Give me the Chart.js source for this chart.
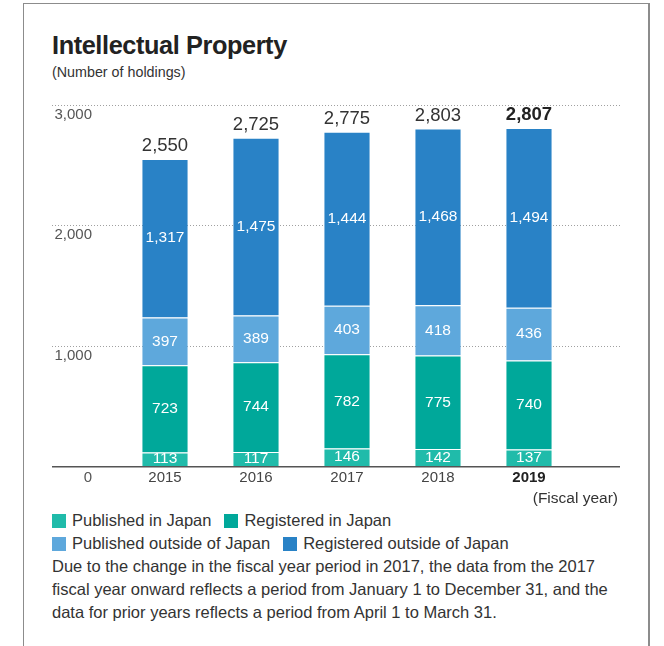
<!DOCTYPE html>
<html>
<head>
<meta charset="utf-8">
<script src="https://cdn.jsdelivr.net/npm/chart.js@4"></script>
<style>
  body { margin: 0; background: #fff; font-family: 'Liberation Sans', Arial, Helvetica, sans-serif; color: #333; overflow: hidden; width: 664px; height: 646px; }
  #frame { position: absolute; left: 23px; top: 3px; width: 624px; height: 700px; border-left: 1px solid #8c8c8c; border-top: 1px solid #8c8c8c; border-right: 2px solid #8c8c8c; }
  #title { position: absolute; left: 52px; top: 33px; font-size: 25.3px; font-weight: bold; letter-spacing: -0.4px; color: #222; line-height: 25px; }
  #subtitle { position: absolute; left: 52px; top: 65px; font-size: 14.3px; line-height: 14px; color: #333; }
  #wrap { position: absolute; left: 0; top: 90px; width: 664px; height: 410px; }
  #unit { position: absolute; right: 46px; top: 490px; font-size: 15.5px; line-height: 16px; color: #333; }
  #bottom { position: absolute; left: 52px; top: 509px; width: 600px; font-size: 16.5px; line-height: 23px; color: #333; }
  .row { display: flex; gap: 13px; }
  .item { display: flex; align-items: center; }
  .sw { width: 14px; height: 14px; margin-right: 6px; }
</style>
</head>
<body>
<div id="frame"></div>
<div id="title">Intellectual Property</div>
<div id="subtitle">(Number of holdings)</div>
<div id="wrap"><canvas id="ipChart"></canvas></div>
<div id="unit">(Fiscal year)</div>
<div id="bottom">
  <div class="row" id="legendRow1"></div>
  <div class="row" id="legendRow2"></div>
  <div>Due to the change in the fiscal year period in 2017, the data from the 2017<br>fiscal year onward reflects a period from January 1 to December 31, and the<br>data for prior years reflects a period from April 1 to March 31.</div>
</div>
<script>
// chart data
const years = ['2015', '2016', '2017', '2018', '2019'];
const publishedJapan = [113, 117, 146, 142, 137];
const registeredJapan = [723, 744, 782, 775, 740];
const publishedOutside = [397, 389, 403, 418, 436];
const registeredOutside = [1317, 1475, 1444, 1468, 1494];
const yTicks = [0, 1000, 2000, 3000];

const FONT = "'Liberation Sans', Arial, Helvetica, sans-serif";

const series = [
  { label: 'Published in Japan', data: publishedJapan, color: '#20bbaa' },
  { label: 'Registered in Japan', data: registeredJapan, color: '#00a89a' },
  { label: 'Published outside of Japan', data: publishedOutside, color: '#5ea8dc' },
  { label: 'Registered outside of Japan', data: registeredOutside, color: '#2982c6' }
];

// legend in two rows
[[0, 1], [2, 3]].forEach((idx, r) => {
  const row = document.getElementById('legendRow' + (r + 1));
  idx.forEach(i => {
    const it = document.createElement('div');
    it.className = 'item';
    it.innerHTML = '<span class="sw" style="background:' + series[i].color + '"></span>' + series[i].label;
    row.appendChild(it);
  });
});

const fmt = v => v.toLocaleString('en-US');

// grid, tick text and value labels
const labelPlugin = {
  id: 'labelPlugin',
  beforeDatasetsDraw(chart) {
    const ctx = chart.ctx;
    const y = chart.scales.y;
    ctx.save();
    ctx.strokeStyle = '#a0a0a0';
    ctx.lineWidth = 1;
    ctx.setLineDash([1, 2]);
    yTicks.forEach(v => {
      if (v === 0) return;
      const py = Math.round(y.getPixelForValue(v)) + 0.5;
      ctx.beginPath();
      ctx.moveTo(52, py);
      ctx.lineTo(620, py);
      ctx.stroke();
    });
    ctx.restore();
  },
  afterDatasetsDraw(chart) {
    const ctx = chart.ctx;
    const x = chart.scales.x;
    const y = chart.scales.y;
    const base = y.getPixelForValue(0);
    ctx.save();

    // baseline
    ctx.strokeStyle = '#555';
    ctx.lineWidth = 1.5;
    ctx.beginPath();
    ctx.moveTo(52, base + 0.75);
    ctx.lineTo(620, base + 0.75);
    ctx.stroke();

    // y tick labels (drawn under their gridline)
    ctx.fillStyle = '#555';
    ctx.font = '15px ' + FONT;
    ctx.textAlign = 'right';
    ctx.textBaseline = 'middle';
    yTicks.forEach(v => {
      ctx.fillText(fmt(v), 92, y.getPixelForValue(v) + (v === 0 ? 12 : 10));
    });

    // year labels
    ctx.textAlign = 'center';
    years.forEach((yr, i) => {
      const last = i === years.length - 1;
      ctx.font = (last ? 'bold ' : '') + '15px ' + FONT;
      ctx.fillStyle = last ? '#222' : '#444';
      ctx.fillText(yr, x.getPixelForValue(i), base + 12);
    });

    // segment labels
    ctx.fillStyle = '#fff';
    ctx.font = '15.5px ' + FONT;
    chart.data.datasets.forEach((ds, d) => {
      chart.getDatasetMeta(d).data.forEach((bar, i) => {
        ctx.fillText(fmt(ds.data[i]), bar.x, (bar.y + bar.base) / 2);
      });
    });

    // totals above the bars
    const topMeta = chart.getDatasetMeta(chart.data.datasets.length - 1);
    topMeta.data.forEach((bar, i) => {
      const total = series.reduce((s, sr) => s + sr.data[i], 0);
      const last = i === years.length - 1;
      ctx.font = (last ? 'bold ' : '') + '18.5px ' + FONT;
      ctx.fillStyle = last ? '#222' : '#333';
      ctx.fillText(fmt(total), bar.x, bar.y - 13);
    });
    ctx.restore();
  }
};

new Chart(document.getElementById('ipChart'), {
  type: 'bar',
  data: {
    labels: years,
    datasets: series.map(s => ({
      label: s.label,
      data: s.data,
      backgroundColor: s.color,
      borderColor: '#fff',
      borderWidth: { top: 1, bottom: 0, left: 0, right: 0 },
      borderSkipped: false,
      barPercentage: 0.5,
      categoryPercentage: 1
    }))
  },
  options: {
    responsive: true,
    maintainAspectRatio: false,
    animation: false,
    layout: { padding: { left: 119.5, right: 89.5, top: 14.7, bottom: 34 } },
    plugins: {
      legend: { display: false },
      tooltip: { enabled: false }
    },
    scales: {
      x: { stacked: true, display: false },
      y: { stacked: true, display: false, min: 0, max: 3000 }
    }
  },
  plugins: [labelPlugin]
});
</script>
</body>
</html>
